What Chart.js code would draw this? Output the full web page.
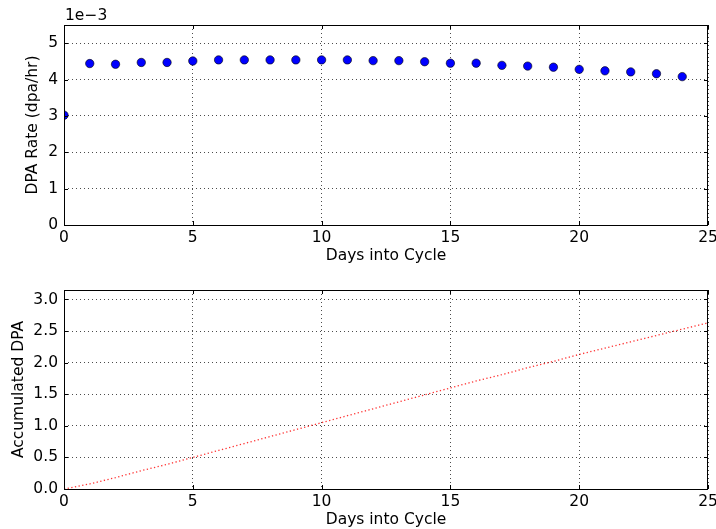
<!DOCTYPE html>
<html>
<head>
<meta charset="utf-8">
<script src="https://cdn.jsdelivr.net/npm/chart.js@4.4.1/dist/chart.umd.min.js"></script>
<style>
  html, body { margin: 0; padding: 0; background: #fff; overflow: hidden; }
  #wrap { position: relative; width: 716px; height: 529px; }
  #wrap canvas { position: absolute; left: 0; }
  #rateChart { top: 0; }
  #accChart { top: 265px; }
</style>
</head>
<body>
<div id="wrap">
  <canvas id="rateChart" width="716" height="265"></canvas>
  <canvas id="accChart" width="716" height="264"></canvas>
</div>
<script>
// Days into the cycle
const rateDays = [0, 1, 2, 3, 4, 5, 6, 7, 8, 9, 10, 11, 12, 13, 14, 15, 16, 17, 18, 19, 20, 21, 22, 23, 24];
// DPA rate in units of 1e-3 dpa/hr
const dpaRateE3 = [3.02, 4.44, 4.42, 4.47, 4.47, 4.51, 4.54, 4.54, 4.54, 4.54, 4.54, 4.54, 4.52,
                   4.52, 4.49, 4.45, 4.45, 4.39, 4.37, 4.34, 4.28, 4.24, 4.21, 4.16, 4.08];

const accDays = [0, 1, 2, 3, 4, 5, 6, 7, 8, 9, 10, 11, 12, 13, 14, 15, 16, 17, 18, 19, 20, 21, 22, 23, 24, 25];
const accDpa = [0, 0.08, 0.18, 0.29, 0.39, 0.50, 0.61, 0.72, 0.83, 0.94, 1.05, 1.16, 1.27, 1.38,
                1.49, 1.60, 1.71, 1.81, 1.92, 2.02, 2.13, 2.23, 2.33, 2.43, 2.53, 2.63];

const FONT = "'DejaVu Sans', sans-serif";
const TEXT = '#000000';
const FSIZE = 15.5;

// Draws the axes frame and the inward tick marks on all four sides
const framePlugin = {
    id: 'frame',
    afterDraw(chart, args, opts) {
        const { ctx, chartArea: a, scales } = chart;
        ctx.save();
        ctx.strokeStyle = '#000';
        ctx.lineWidth = 1;
        ctx.beginPath();
        scales.x.ticks.forEach(t => {
            const px = Math.round(scales.x.getPixelForValue(t.value)) + 0.5;
            ctx.moveTo(px, a.bottom); ctx.lineTo(px, a.bottom - 4);
            ctx.moveTo(px, a.top); ctx.lineTo(px, a.top + 4);
        });
        scales.y.ticks.forEach(t => {
            const py = Math.round(scales.y.getPixelForValue(t.value)) + 0.5;
            ctx.moveTo(a.left, py); ctx.lineTo(a.left + 4, py);
            ctx.moveTo(a.right, py); ctx.lineTo(a.right - 4, py);
        });
        ctx.stroke();
        ctx.strokeRect(Math.round(a.left) + 0.5, Math.round(a.top) + 0.5,
                       Math.round(a.right - a.left) - 1, Math.round(a.bottom - a.top));
        if (opts.offsetText) {
            ctx.fillStyle = TEXT;
            ctx.font = FSIZE + 'px ' + FONT;
            ctx.textBaseline = 'middle';
            ctx.textAlign = 'left';
            ctx.fillText(opts.offsetText, a.left + 1, 16);
        }
        ctx.restore();
    }
};

function baseOptions(yTitle, yTitlePad, yMax, yStep, yFmt, offsetText) {
    return {
        responsive: false,
        animation: false,
        layout: { padding: { top: 25, right: 8, bottom: 0, left: 0 } },
        plugins: {
            legend: { display: false },
            tooltip: { enabled: false },
            frame: { offsetText: offsetText }
        },
        scales: {
            x: {
                type: 'linear',
                min: 0,
                max: 25,
                afterFit(scale) {
                    scale.height = 40;
                    scale.paddingLeft = 0;
                    scale.paddingRight = 0;
                },
                border: { display: false, dash: [1, 3] },
                grid: { color: 'rgba(0,0,0,0.7)', lineWidth: 1, drawTicks: false },
                ticks: {
                    stepSize: 5,
                    padding: 4,
                    color: TEXT,
                    font: { family: FONT, size: FSIZE },
                    maxRotation: 0
                },
                title: {
                    display: true,
                    text: 'Days into Cycle',
                    color: TEXT,
                    font: { family: FONT, size: FSIZE },
                    padding: { top: 0, bottom: 0 }
                }
            },
            y: {
                type: 'linear',
                min: 0,
                max: yMax,
                afterFit(scale) {
                    scale.width = 64;
                    scale.paddingTop = 0;
                    scale.paddingBottom = 0;
                },
                border: { display: false, dash: [1, 3] },
                grid: { color: 'rgba(0,0,0,0.7)', lineWidth: 1, drawTicks: false },
                ticks: {
                    stepSize: yStep,
                    includeBounds: false,
                    padding: 6,
                    color: TEXT,
                    font: { family: FONT, size: FSIZE },
                    callback: yFmt
                },
                title: {
                    display: true,
                    text: yTitle,
                    color: TEXT,
                    font: { family: FONT, size: FSIZE },
                    padding: { top: yTitlePad, bottom: 0 }
                }
            }
        }
    };
}

new Chart(document.getElementById('rateChart'), {
    type: 'scatter',
    data: {
        datasets: [{
            data: rateDays.map((d, i) => ({ x: d, y: dpaRateE3[i] })),
            backgroundColor: '#0000ff',
            borderColor: '#000000',
            borderWidth: 0.6,
            pointRadius: 4.2,
            clip: 0
        }]
    },
    options: baseOptions('DPA Rate (dpa/hr)', 24, 5.5, 1, v => String(Math.round(v)), '1e\u22123'),
    plugins: [framePlugin]
});

new Chart(document.getElementById('accChart'), {
    type: 'line',
    data: {
        datasets: [{
            data: accDays.map((d, i) => ({ x: d, y: accDpa[i] })),
            borderColor: 'rgba(255,0,0,0.8)',
            borderWidth: 1.3,
            borderDash: [1.3, 2.4],
            pointRadius: 0,
            fill: false,
            tension: 0,
            clip: 0
        }]
    },
    options: baseOptions('Accumulated DPA', 10, 3.15, 0.5, v => v.toFixed(1), null),
    plugins: [framePlugin]
});
</script>
</body>
</html>
